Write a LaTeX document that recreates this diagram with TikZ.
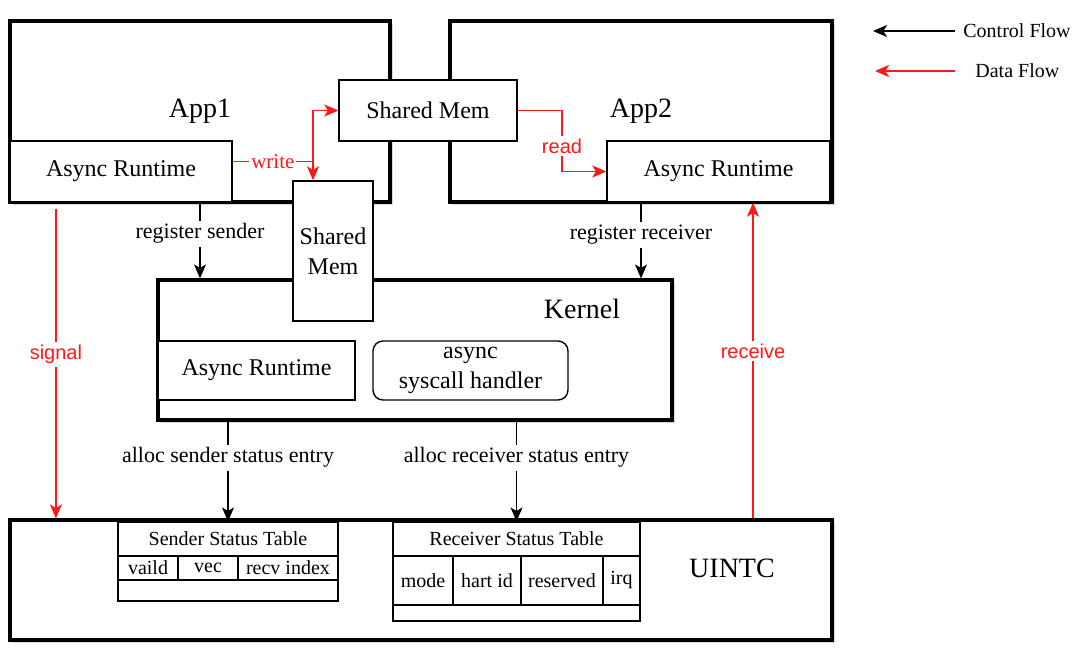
\documentclass[tikz,border=0pt]{standalone}
\usepackage{fontspec}
\setmainfont{Liberation Serif}
\newfontfamily\lblsans{Liberation Sans}
\usetikzlibrary{arrows.meta,shadows}
\definecolor{flowred}{RGB}{255,24,24}
\newcommand\titlefont{\fontsize{14}{17}\selectfont}
\newcommand\boxfont{\fontsize{12}{15}\selectfont}
\newcommand\cellfont{\fontsize{10}{12}\selectfont}

\begin{document}
\begin{tikzpicture}[x=.5pt,y=-.5pt,
  bigbox/.style={draw,line width=1.6pt,fill=white,
    drop shadow={shadow xshift=1.4pt,shadow yshift=-1.4pt,opacity=.3}},
  box/.style={draw,line width=.7pt,fill=white,inner sep=1pt,font=\boxfont},
  cell/.style={draw,line width=.6pt,fill=white,inner sep=1pt,font=\cellfont},
  ctrl/.style={line width=.6pt,-{Stealth[length=7pt,width=6pt,inset=1.8pt]}},
  data/.style={flowred,line width=.8pt,-{Stealth[length=7pt,width=6pt,inset=1.8pt]}},
  clbl/.style={fill=white,inner sep=1.5pt,font=\fontsize{11}{13}\selectfont},
  dlbl/.style={fill=white,inner sep=1.5pt,text=flowred,font=\lblsans\cellfont}]
  \path[use as bounding box,fill=white] (0,0) rectangle (1078,658);

  % outer blocks
  \node[bigbox,minimum width=190pt,minimum height=90.5pt,font=\titlefont] (appOne) at (200,111.5) {App1};
  \node[bigbox,minimum width=191pt,minimum height=90.5pt,font=\titlefont] (appTwo) at (641,111.5) {App2};
  \node[bigbox,minimum width=257pt,minimum height=70pt] (kernel) at (415,350) {};
  \node[bigbox,minimum width=411pt,minimum height=60pt] (uintc) at (421,580) {};
  \node[font=\titlefont] (kernelLbl) at (582,309) {Kernel};
  \node[font=\titlefont] (uintcLbl) at (732,568) {UINTC};

  % inner blocks
  \node[box,minimum width=111pt,minimum height=30.5pt] (rtA) at (121,171.5) {Async Runtime};
  \node[box,minimum width=111.5pt,minimum height=30.5pt] (rtB) at (718.5,171.5) {Async Runtime};
  \node[box,minimum width=89pt,minimum height=30.5pt] (memTop) at (428,110.5) {Shared Mem};
  \node[box,minimum width=40pt,minimum height=70pt,align=center] (memSide) at (333,251) {Shared\\Mem};
  \node[box,minimum width=98.5pt,minimum height=29.5pt] (rtK) at (256.5,370.5) {Async Runtime};
  \node[box,minimum width=97.5pt,minimum height=29.5pt,rounded corners=5pt,align=center] (sysH) at (470.5,370.5) {async\\syscall handler};

  % sender status table
  \node[cell,minimum width=110pt,minimum height=17pt] (sendTitle) at (228,539) {Sender Status Table};
  \node[cell,minimum width=30pt,minimum height=12pt] (sendValid) at (148,568) {vaild};
  \node[cell,minimum width=30pt,minimum height=12pt] (sendVec) at (208,568) {vec};
  \node[cell,minimum width=50pt,minimum height=12pt] (sendIdx) at (288,568) {recv index};
  \node[cell,minimum width=110pt,minimum height=10.5pt] (sendRow) at (228,590.5) {};

  % receiver status table
  \node[cell,minimum width=123.5pt,minimum height=17pt] (recvTitle) at (516.5,539) {Receiver Status Table};
  \node[cell,minimum width=30pt,minimum height=24.5pt] (recvMode) at (423,580.5) {mode};
  \node[cell,minimum width=34pt,minimum height=24.5pt] (recvHart) at (487,580.5) {hart id};
  \node[cell,minimum width=41pt,minimum height=24.5pt] (recvRes) at (562,580.5) {reserved};
  \node[cell,minimum width=18.5pt,minimum height=24.5pt] (recvIrq) at (621.5,580.5) {irq};
  \node[cell,minimum width=123.5pt,minimum height=8pt] (recvRow) at (516.5,613) {};

  % control flow
  \draw[ctrl] (appOne.south) -- (appOne.south |- kernel.north) node[clbl,pos=.4] {register sender};
  \draw[ctrl] (appTwo.south) -- (appTwo.south |- kernel.north) node[clbl,pos=.42] {register receiver};
  \draw[ctrl] (sendTitle.north |- kernel.south) -- (sendTitle.north) node[clbl,pos=.36] {alloc sender status entry};
  \draw[ctrl] (recvTitle.north |- kernel.south) -- (recvTitle.north) node[clbl,pos=.36] {alloc receiver status entry};

  % data flow
  \coordinate (sigTop) at ([xshift=23.75pt,yshift=-2.5pt]appOne.south west);
  \draw[data] (sigTop) -- (sigTop |- uintc.north) node[dlbl,pos=.47] {signal};
  \coordinate (recvTop) at ([xshift=17.25pt]rtB.south);
  \draw[data] (recvTop |- uintc.north) -- (recvTop) node[dlbl,pos=.53] {receive};
  \coordinate (wrStart) at ([yshift=5pt]rtA.east);
  \coordinate (wrFork) at (313,161.5);
  \draw[flowred,line width=.8pt] (wrStart) -- (wrFork) node[midway,fill=white,inner sep=1pt,text=flowred,font=\fontsize{10.5}{12}\selectfont] {write};
  \draw[data] (wrFork) |- (memTop.west);
  \draw[data] (wrFork) -- (wrFork |- memSide.north);
  \coordinate (rdBend) at (562,110.5);
  \draw[data] (memTop.east) -- (rdBend) |- (rtB.west) node[dlbl,pos=.29] {read};

  % legend
  \node[font=\cellfont,anchor=west,inner sep=0pt] (ctrlKey) at (963,31) {Control Flow};
  \node[font=\cellfont,anchor=west,inner sep=0pt] (dataKey) at (975,71) {Data Flow};
  \draw[ctrl,line width=.8pt] ([xshift=-4pt]ctrlKey.west) -- ++(-82,0);
  \draw[data,line width=.8pt] ([xshift=-10pt]dataKey.west) -- ++(-80,0);
\end{tikzpicture}
\end{document}
